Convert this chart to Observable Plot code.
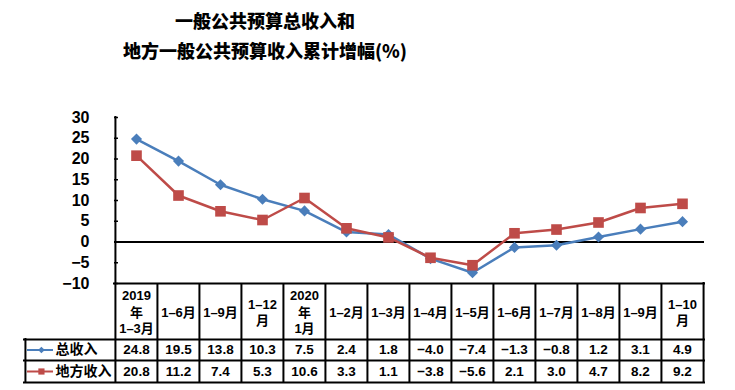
<!DOCTYPE html>
<html><head><meta charset="utf-8">
<script src="https://cdn.jsdelivr.net/npm/d3@7"></script>
<script src="https://cdn.jsdelivr.net/npm/@observablehq/plot@0.6"></script>
<style>
body{margin:0;background:#fff;}
#title{width:530px;height:70px;box-sizing:border-box;padding-top:5px;text-align:center;font-family:"Noto Sans CJK SC",sans-serif;font-weight:900;font-size:18px;line-height:30px;color:#000;}
g[aria-label="values"] text{letter-spacing:1.5px;}
</style>
</head><body>
<div id="title">一般公共预算总收入和<br>地方一般公共预算收入累计增幅(%)</div>
<div id="chart"></div>
<script>
const labels = ["2019\n年\n1–3月","1–6月","1–9月","1–12\n月","2020\n年\n1月","1–2月","1–3月","1–4月","1–5月","1–6月","1–7月","1–8月","1–9月","1–10\n月"];
const totalRevenue = [24.8,19.5,13.8,10.3,7.5,2.4,1.8,-4.0,-7.4,-1.3,-0.8,1.2,3.1,4.9];
const localRevenue = [20.8,11.2,7.4,5.3,10.6,3.3,1.1,-3.8,-5.6,2.1,3.0,4.7,8.2,9.2];
const seriesNames = ["总收入","地方收入"];
const yTicks = [-10,-5,0,5,10,15,20,25,30];

const blue = "#4A7EBB", red = "#BE4B48";
const idx = d3.range(labels.length);
const W = 735, H = 320, mL = 114, mR = 31, mT = 47, mB = 107;
const frameW = W - mL - mR, frameH = H - mT - mB;
const half = frameW / labels.length / 2;
const fmt = v => (v < 0 ? "−" : "") + Math.abs(v).toFixed(1);
const fontF = '"Liberation Sans","Noto Sans CJK SC",sans-serif';
const tableBottom = 99;

const totalData = idx.map(i => ({i, v: totalRevenue[i]}));
const localData = idx.map(i => ({i, v: localRevenue[i]}));

const chart = Plot.plot({
  width: W, height: H,
  marginLeft: mL, marginRight: mR, marginTop: mT, marginBottom: mB,
  style: {fontFamily: fontF, fontSize: "16px", fontWeight: "bold", color: "#000", background: "#fff"},
  x: {type: "point", domain: idx, padding: 0.5, axis: null},
  y: {domain: [-10, 30], ticks: yTicks, tickSize: 0, tickPadding: 25, label: null,
      tickFormat: d => (d < 0 ? "−" + Math.abs(d) : String(d))},
  marks: [
    Plot.tickY(yTicks, {y: d => d, insetRight: frameW - 4, stroke: "#000", strokeWidth: 1.5}),
    Plot.ruleY([0], {stroke: "#000", strokeWidth: 2}),
    Plot.ruleY([-10], {stroke: "#000", strokeWidth: 2, strokeLinecap: "square"}),
    Plot.ruleY([-10], {dy: 56, insetLeft: -90, stroke: "#000", strokeWidth: 2, strokeLinecap: "square"}),
    Plot.ruleY([-10], {dy: 77, insetLeft: -90, stroke: "#000", strokeWidth: 2, strokeLinecap: "square"}),
    Plot.ruleY([-10], {dy: tableBottom, insetLeft: -90, stroke: "#000", strokeWidth: 2, strokeLinecap: "square"}),
    Plot.ruleX([0], {x: d => d, dx: -half, insetBottom: -tableBottom, stroke: "#000", strokeWidth: 2, strokeLinecap: "square"}),
    Plot.ruleX(idx.slice(1), {x: d => d, dx: -half, insetTop: frameH, insetBottom: -tableBottom, stroke: "#000", strokeWidth: 2}),
    Plot.ruleX([idx.length - 1], {x: d => d, dx: half, insetTop: frameH, insetBottom: -tableBottom, stroke: "#000", strokeWidth: 2, strokeLinecap: "square"}),
    Plot.ruleX([0], {x: d => d, dx: -half - 90, insetTop: frameH + 56, insetBottom: -tableBottom, stroke: "#000", strokeWidth: 2, strokeLinecap: "square"}),
    Plot.line(totalData, {x: "i", y: "v", stroke: blue, strokeWidth: 2.5}),
    Plot.dot(totalData, {x: "i", y: "v", symbol: "diamond2", r: 5, fill: blue}),
    Plot.line(localData, {x: "i", y: "v", stroke: red, strokeWidth: 2.5}),
    Plot.dot(localData, {x: "i", y: "v", symbol: "square", r: 6, fill: red}),
    Plot.text(idx, {x: d => d, frameAnchor: "bottom", dy: 28, lineAnchor: "middle", text: i => labels[i], fontSize: 13, fontWeight: "bold", lineHeight: 1.27, fill: "#000"}),
    Plot.text(idx, {x: d => d, frameAnchor: "bottom", dy: 66.5, lineAnchor: "middle", text: i => fmt(totalRevenue[i]), fontSize: 13.5, fontWeight: "bold", fill: "#000", ariaLabel: "values"}),
    Plot.text(idx, {x: d => d, frameAnchor: "bottom", dy: 88, lineAnchor: "middle", text: i => fmt(localRevenue[i]), fontSize: 13.5, fontWeight: "bold", fill: "#000", ariaLabel: "values"}),
    Plot.ruleY([-10], {dy: 66.5, insetLeft: -(mL - 27), insetRight: W - mR - 53, stroke: blue, strokeWidth: 2}),
    Plot.dot([0], {x: () => 0, y: () => -10, dx: 40 - (mL + half), dy: 66.5, symbol: "diamond2", r: 3, fill: blue}),
    Plot.ruleY([-10], {dy: 88, insetLeft: -(mL - 27), insetRight: W - mR - 53, stroke: red, strokeWidth: 2}),
    Plot.dot([0], {x: () => 0, y: () => -10, dx: 40 - (mL + half), dy: 88, symbol: "square", r: 3.5, fill: red}),
    Plot.text([seriesNames[0]], {frameAnchor: "bottom-left", dx: 55 - mL, dy: 66.5, lineAnchor: "middle", text: d => d, textAnchor: "start", fontSize: 14, fontWeight: "bold", fill: "#000"}),
    Plot.text([seriesNames[1]], {frameAnchor: "bottom-left", dx: 55 - mL, dy: 88, lineAnchor: "middle", text: d => d, textAnchor: "start", fontSize: 14, fontWeight: "bold", fill: "#000"})
  ]
});
document.getElementById("chart").appendChild(chart);
</script>
</body></html>
